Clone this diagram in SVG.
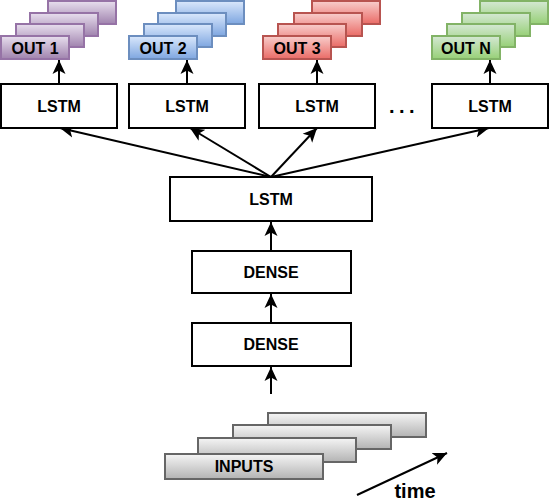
<svg xmlns="http://www.w3.org/2000/svg" width="550" height="502" viewBox="0 0 550 502">
<style>
  .box { fill: #ffffff; stroke: #000000; stroke-width: 2; }
  .lbl { font-family: "Liberation Sans", Arial, sans-serif; font-size: 16px; font-weight: bold; fill: #000000; text-anchor: middle; }
  .out { font-size: 16px; }
  .edge { fill: none; stroke: #000000; stroke-width: 2; marker-end: url(#arr); }
  .pu { fill: url(#gPu); stroke: #9673a6; stroke-width: 2; }
  .bl { fill: url(#gBl); stroke: #6c8ebf; stroke-width: 2; }
  .rd { fill: url(#gRd); stroke: #b85450; stroke-width: 2; }
  .gr { fill: url(#gGr); stroke: #82b366; stroke-width: 2; }
  .gy { fill: url(#gGy); stroke: #666666; stroke-width: 2; }
</style>
<defs>
  <marker id="arr" markerUnits="userSpaceOnUse" markerWidth="15" markerHeight="14" refX="14" refY="7" orient="auto">
    <path d="M14,7 L0,0.5 L3.5,7 L0,13.5 Z" fill="#000000"/>
  </marker>
  <linearGradient id="gPu" x1="0" y1="0" x2="0" y2="1"><stop offset="0" stop-color="#e8dfee"/><stop offset="1" stop-color="#a083ae"/></linearGradient>
  <linearGradient id="gBl" x1="0" y1="0" x2="0" y2="1"><stop offset="0" stop-color="#dae8fc"/><stop offset="1" stop-color="#7ea6e0"/></linearGradient>
  <linearGradient id="gRd" x1="0" y1="0" x2="0" y2="1"><stop offset="0" stop-color="#f8cecc"/><stop offset="1" stop-color="#ea6b66"/></linearGradient>
  <linearGradient id="gGr" x1="0" y1="0" x2="0" y2="1"><stop offset="0" stop-color="#d5e8d4"/><stop offset="1" stop-color="#97d077"/></linearGradient>
  <linearGradient id="gGy" x1="0" y1="0" x2="0" y2="1"><stop offset="0" stop-color="#f5f5f5"/><stop offset="1" stop-color="#b3b3b3"/></linearGradient>
</defs>

<g id="connectors">
  <line class="edge" x1="59" y1="84" x2="59" y2="60"/>
  <line class="edge" x1="187" y1="84" x2="187" y2="60"/>
  <line class="edge" x1="317" y1="84" x2="317" y2="60"/>
  <line class="edge" x1="490" y1="84" x2="490" y2="60"/>
  <line class="edge" x1="271" y1="177" x2="60" y2="128"/>
  <line class="edge" x1="271" y1="177" x2="190" y2="128"/>
  <line class="edge" x1="271" y1="177" x2="317" y2="128"/>
  <line class="edge" x1="271" y1="177" x2="489" y2="128"/>
  <line class="edge" x1="271" y1="251" x2="271" y2="222"/>
  <line class="edge" x1="271" y1="323" x2="271" y2="294"/>
  <line class="edge" x1="271" y1="394" x2="271" y2="367"/>
  <line class="edge" x1="357" y1="495" x2="447" y2="453"/>
</g>

<g id="out1">
  <rect class="pu" x="48" y="1" width="68" height="23"/>
  <rect class="pu" x="30" y="13" width="68" height="23"/>
  <rect class="pu" x="16" y="24" width="68" height="23"/>
  <rect class="pu" x="1" y="36" width="68" height="23"/>
  <text class="lbl out" x="35" y="53.5">OUT 1</text>
</g>
<g id="out2">
  <rect class="bl" x="176" y="1" width="68" height="23"/>
  <rect class="bl" x="158" y="13" width="68" height="23"/>
  <rect class="bl" x="144" y="24" width="68" height="23"/>
  <rect class="bl" x="129" y="36" width="68" height="23"/>
  <text class="lbl out" x="163" y="53.5">OUT 2</text>
</g>
<g id="out3">
  <rect class="rd" x="312" y="1" width="68" height="23"/>
  <rect class="rd" x="294" y="13" width="68" height="23"/>
  <rect class="rd" x="278" y="24" width="68" height="23"/>
  <rect class="rd" x="263" y="36" width="68" height="23"/>
  <text class="lbl out" x="297" y="53.5">OUT 3</text>
</g>
<g id="outN">
  <rect class="gr" x="480" y="1" width="68" height="23"/>
  <rect class="gr" x="462" y="13" width="68" height="23"/>
  <rect class="gr" x="447" y="24" width="68" height="23"/>
  <rect class="gr" x="432" y="36" width="68" height="23"/>
  <text class="lbl out" x="466" y="53.5">OUT N</text>
</g>

<g id="lstm1">
  <rect class="box" x="1" y="84" width="116" height="44"/>
  <text class="lbl" x="59" y="112">LSTM</text>
</g>
<g id="lstm2">
  <rect class="box" x="129" y="84" width="116" height="44"/>
  <text class="lbl" x="187" y="112">LSTM</text>
</g>
<g id="lstm3">
  <rect class="box" x="259" y="84" width="116" height="44"/>
  <text class="lbl" x="317" y="112">LSTM</text>
</g>
<g id="dots">
  <text class="lbl" x="404" y="113" style="font-size:20px;letter-spacing:4.5px">...</text>
</g>
<g id="lstmN">
  <rect class="box" x="432" y="84" width="116" height="44"/>
  <text class="lbl" x="490" y="112">LSTM</text>
</g>

<g id="lstm-main">
  <rect class="box" x="170" y="177" width="202" height="44"/>
  <text class="lbl" x="271" y="205">LSTM</text>
</g>
<g id="dense1">
  <rect class="box" x="192" y="251" width="159" height="42"/>
  <text class="lbl" x="271" y="278">DENSE</text>
</g>
<g id="dense2">
  <rect class="box" x="192" y="323" width="159" height="43"/>
  <text class="lbl" x="271" y="350">DENSE</text>
</g>

<g id="inputs">
  <rect class="gy" x="268" y="413" width="158" height="24"/>
  <rect class="gy" x="233" y="425" width="158" height="24"/>
  <rect class="gy" x="198" y="438" width="158" height="24"/>
  <rect class="gy" x="165" y="454" width="158" height="25"/>
  <text class="lbl" x="244" y="472">INPUTS</text>
</g>

<g id="time-label">
  <text class="lbl" x="415" y="498" style="font-size:20px">time</text>
</g>
</svg>
